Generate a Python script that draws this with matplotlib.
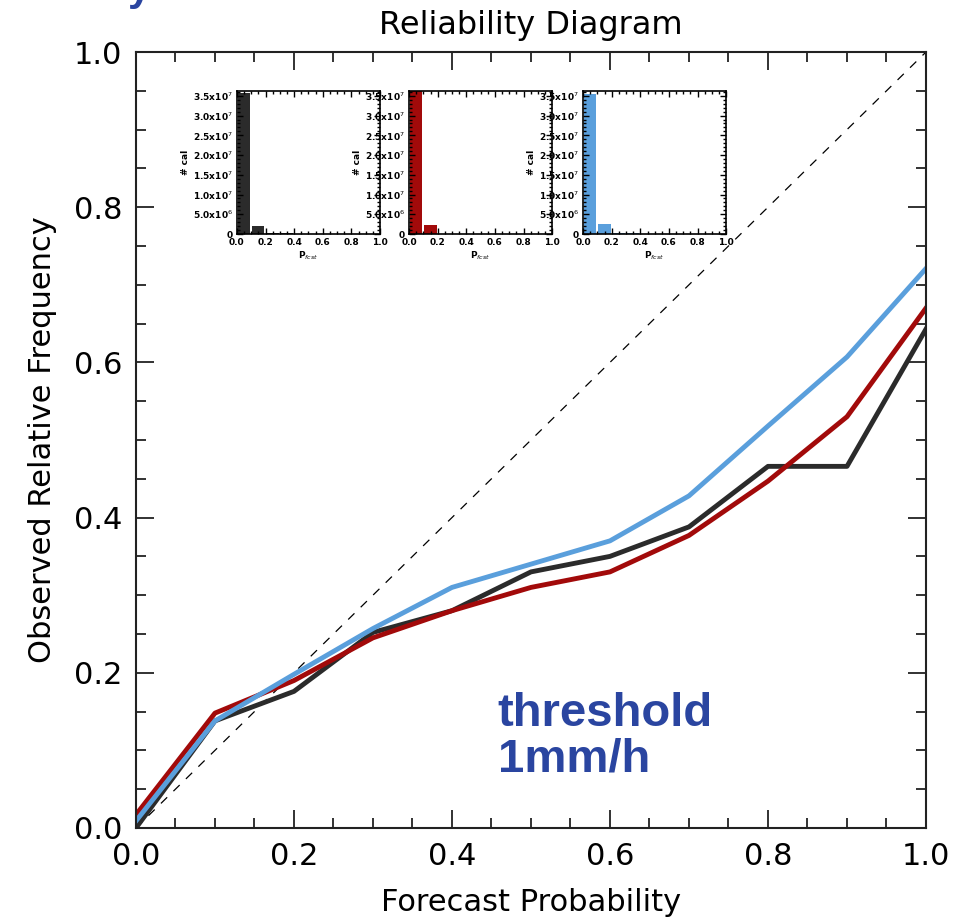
import numpy as np, matplotlib
matplotlib.use("Agg")
import matplotlib.pyplot as plt
from matplotlib.ticker import MultipleLocator, FixedLocator, FixedFormatter

# reliability curves (forecast prob vs observed freq)
prob = [0.0, 0.1, 0.2, 0.3, 0.4, 0.5, 0.6, 0.7, 0.8, 0.9, 1.0]
obs_black = [0.0, 0.138, 0.176, 0.252, 0.28, 0.33, 0.35, 0.388, 0.466, 0.466, 0.643]
obs_red = [0.017, 0.148, 0.19, 0.245, 0.28, 0.31, 0.33, 0.377, 0.447, 0.53, 0.67]
obs_blue = [0.009, 0.138, 0.198, 0.257, 0.31, 0.34, 0.37, 0.428, 0.518, 0.607, 0.721]

main_ticks = [0.0, 0.2, 0.4, 0.6, 0.8, 1.0]
main_labels = ["0.0", "0.2", "0.4", "0.6", "0.8", "1.0"]

# forecast counts per probability bin (insets)
bin_centers = [0.05, 0.15, 0.25, 0.35]
counts_black = [3.56e7, 0.21e7, 0.02e7, 0.02e7]
counts_red = [3.62e7, 0.22e7, 0.0, 0.0]
counts_blue = [3.54e7, 0.26e7, 0.03e7, 0.03e7]
inset_yticks = [0, 0.5e7, 1.0e7, 1.5e7, 2.0e7, 2.5e7, 3.0e7, 3.5e7]
inset_ylabels = ["0", r"5.0x10$^6$", r"1.0x10$^7$", r"1.5x10$^7$",
                 r"2.0x10$^7$", r"2.5x10$^7$", r"3.0x10$^7$", r"3.5x10$^7$"]

c_black, c_red, c_blue = "#2b2b2b", "#a20a0a", "#5a9fdc"

fig = plt.figure(figsize=(9.67, 9.22), dpi=100)
ax = fig.add_axes([0.1406, 0.102, 0.817, 0.8416])

ax.plot([0, 1], [0, 1], ls=(0, (7, 7)), color="k", lw=0.9)
ax.plot(prob, obs_black, color=c_black, lw=3.5)
ax.plot(prob, obs_red, color=c_red, lw=3.5)
ax.plot(prob, obs_blue, color=c_blue, lw=3.5)

ax.set_xlim(0, 1); ax.set_ylim(0, 1)
ax.xaxis.set_major_locator(FixedLocator(main_ticks))
ax.yaxis.set_major_locator(FixedLocator(main_ticks))
ax.xaxis.set_major_formatter(FixedFormatter(main_labels))
ax.yaxis.set_major_formatter(FixedFormatter(main_labels))
ax.xaxis.set_minor_locator(MultipleLocator(0.05))
ax.yaxis.set_minor_locator(MultipleLocator(0.05))
ax.tick_params(which="both", direction="in", top=True, right=True, labelsize=22, pad=10, color="#222222")
ax.tick_params(which="major", length=13, width=1.3)
ax.tick_params(which="minor", length=7, width=1.3)
for s in ax.spines.values():
    s.set_linewidth(1.5); s.set_color("#222222")
ax.set_xlabel("Forecast Probability", fontsize=22, labelpad=12)
ax.set_ylabel("Observed Relative Frequency", fontsize=22, labelpad=12)
ax.set_title("Reliability Diagram", fontsize=23, pad=13)

ax.text(0.458, 0.175, "threshold\n1mm/h", fontsize=34,
        fontweight="bold", color="#2a45a0", family="Liberation Sans", va="top", linespacing=1.05)

# cropped blue text at very top
fig.text(0.132, 1.012, "y", fontsize=30, fontweight="bold", color="#2a45a0",
         family="Liberation Sans", va="center")

lefts = [0.245, 0.423, 0.603]
for left, counts, col in zip(lefts, [counts_black, counts_red, counts_blue], [c_black, c_red, c_blue]):
    ia = fig.add_axes([left, 0.7462, 0.148, 0.155])
    ia.bar(bin_centers, counts, width=0.085, color=col)
    ia.set_xlim(0, 1); ia.set_ylim(0, 3.62e7)
    ia.set_xticks(main_ticks)
    ia.set_xticklabels(main_labels)
    ia.xaxis.set_minor_locator(MultipleLocator(0.05))
    ia.set_yticks(inset_yticks)
    ia.set_yticklabels(inset_ylabels)
    ia.yaxis.set_minor_locator(MultipleLocator(0.1e7))
    ia.tick_params(which="both", direction="in", top=True, right=True, labelsize=6.5, pad=3)
    ia.tick_params(which="major", length=4, width=1)
    ia.tick_params(which="minor", length=2, width=1)
    for t in ia.get_xticklabels() + ia.get_yticklabels():
        t.set_fontweight("bold")
    for s in ia.spines.values():
        s.set_linewidth(1.2)
    ia.set_xlabel(r"P$_{fcst}$", fontsize=6.5, fontweight="bold", labelpad=2)
    ia.set_ylabel("# cal", fontsize=6.5, fontweight="bold", labelpad=2)

fig.savefig("out.png", dpi=100)
